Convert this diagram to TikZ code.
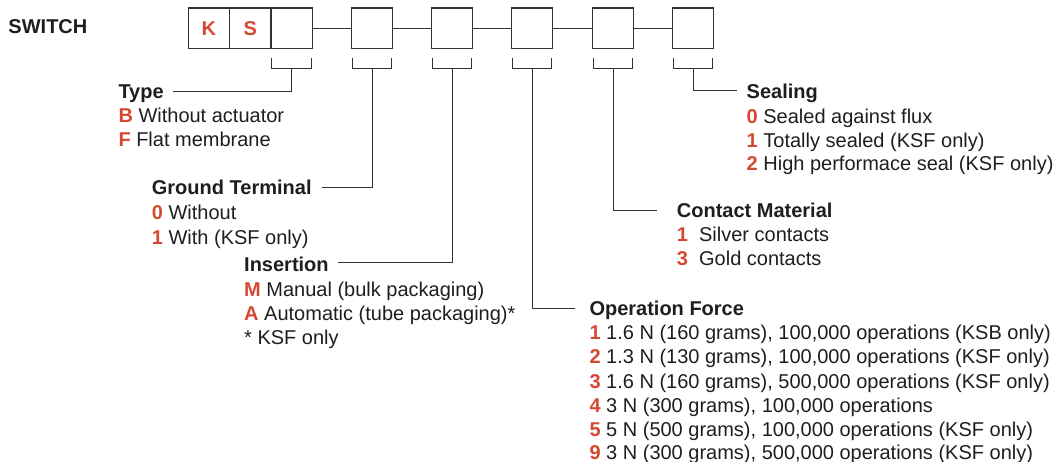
\documentclass[tikz,border=0pt]{standalone}
\usepackage{fontspec}
\setmainfont{Liberation Sans}
\definecolor{codered}{RGB}{214,72,50}
\definecolor{txt}{RGB}{30,30,30}
\definecolor{ln}{RGB}{50,50,50}
\newcommand{\itm}[2]{\textbf{\textcolor{codered}{#1}} #2}
\begin{document}
\begin{tikzpicture}[x=1pt,y=-1pt,
  every node/.style={font=\fontsize{20}{24}\selectfont, text=txt},
  txtline/.style={anchor=base west, inner sep=0pt},
  head/.style={txtline, font=\fontsize{20}{24}\selectfont\bfseries},
  codebox/.style={draw=ln, line width=1.2pt, rectangle, minimum width=41.3pt, minimum height=40.7pt, inner sep=0pt},
  codebox2/.style={codebox, minimum width=40.5pt},
  conn/.style={draw=ln, line width=1pt},
  redletter/.style={text=codered, font=\fontsize{20}{24}\selectfont\bfseries}
]
\useasboundingbox (0,0) rectangle (1062,462);

% title
\node[head] (switch) at (8.3,33.2) {SWITCH};

% code boxes
\node[codebox, redletter] (b1) at (208.95,28.35) {K};
\node[codebox, redletter] (b2) at (250.25,28.35) {S};
\node[codebox] (b3) at (291.55,28.35) {};
\node[codebox2] (b4) at (372,28.35) {};
\node[codebox2] (b5) at (452,28.35) {};
\node[codebox2] (b6) at (532,28.35) {};
\node[codebox2] (b7) at (613,28.35) {};
\node[codebox2] (b8) at (693,28.35) {};

\draw[conn] (b3.east) -- (b4.west);
\draw[conn] (b4.east) -- (b5.west);
\draw[conn] (b5.east) -- (b6.west);
\draw[conn] (b6.east) -- (b7.west);
\draw[conn] (b7.east) -- (b8.west);

% brackets
\foreach \b in {b3,b4,b5,b6,b7,b8}{
  \draw[conn] ([xshift=1.2pt,yshift=-8.3pt]\b.south west) |- ([yshift=-19.3pt]\b.south)
     -| ([xshift=-1.2pt,yshift=-8.3pt]\b.south east);
  \coordinate (k\b) at ([yshift=-19.3pt]\b.south);
}

% Type
\node[head] (type) at (118.3,98.9) {Type};
\node[txtline] (typeB) at (118.3,122.7) {\itm{B}{Without actuator}};
\node[txtline] (typeF) at (118.3,146.7) {\itm{F}{Flat membrane}};
\coordinate (typeEnd) at (173,91.7);
\draw[conn] (kb3) |- (typeEnd);

% Ground Terminal
\node[head] (gnd) at (151.7,195) {Ground Terminal};
\node[txtline] (gnd0) at (151.7,220) {\itm{0}{Without}};
\node[txtline] (gnd1) at (151.7,244.2) {\itm{1}{With (KSF only)}};
\coordinate (gndEnd) at (321.7,187.8);
\draw[conn] (kb4) |- (gndEnd);

% Insertion
\node[head] (ins) at (244,271.2) {Insertion};
\node[txtline] (insM) at (244,296.2) {\itm{M}{Manual (bulk packaging)}};
\node[txtline] (insA) at (244,320.2) {\itm{A}{Automatic (tube packaging)*}};
\node[txtline] (insK) at (244,344.2) {* KSF only};
\coordinate (insEnd) at (338.3,263);
\draw[conn] (kb5) |- (insEnd);

% Operation Force
\node[head] (opf) at (589.3,315.5) {Operation Force};
\node[txtline] (opf1) at (589.3,339.7) {\itm{1}{1.6 N (160 grams), 100,000 operations (KSB only)}};
\node[txtline] (opf2) at (589.3,363.9) {\itm{2}{1.3 N (130 grams), 100,000 operations (KSF only)}};
\node[txtline] (opf3) at (589.3,388.1) {\itm{3}{1.6 N (160 grams), 500,000 operations (KSF only)}};
\node[txtline] (opf4) at (589.3,412.3) {\itm{4}{3 N (300 grams), 100,000 operations}};
\node[txtline] (opf5) at (589.3,436.5) {\itm{5}{5 N (500 grams), 100,000 operations (KSF only)}};
\node[txtline] (opf9) at (589.3,459.5) {\itm{9}{3 N (300 grams), 500,000 operations (KSF only)}};
\coordinate (opfEnd) at (575,308.3);
\draw[conn] (kb6) |- (opfEnd);

% Contact Material
\node[head] (cm) at (676.7,217.9) {Contact Material};
\node[txtline] (cm1) at (676.7,241.9) {\textbf{\textcolor{codered}{1}}\ \ Silver contacts};
\node[txtline] (cm3) at (676.7,265.9) {\textbf{\textcolor{codered}{3}}\ \ Gold contacts};
\coordinate (cmEnd) at (656.7,210.7);
\draw[conn] (kb7) |- (cmEnd);

% Sealing
\node[head] (seal) at (746.5,98.7) {Sealing};
\node[txtline] (seal0) at (746.5,123.5) {\itm{0}{Sealed against flux}};
\node[txtline] (seal1) at (746.5,147.3) {\itm{1}{Totally sealed (KSF only)}};
\node[txtline] (seal2) at (746.5,170.9) {\itm{2}{High performace seal (KSF only)}};
\coordinate (sealEnd) at (736.5,91);
\draw[conn] (kb8) |- (sealEnd);
\end{tikzpicture}
\end{document}
